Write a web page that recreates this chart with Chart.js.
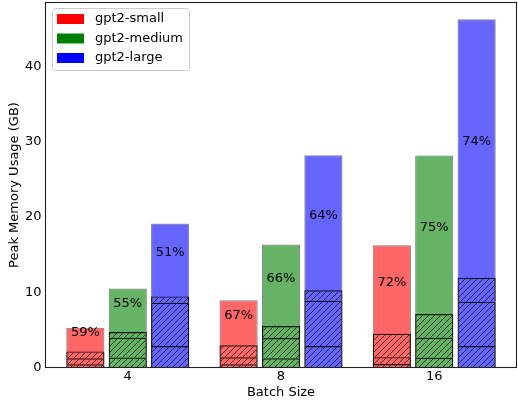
<!DOCTYPE html>
<html lang="en">
<head>
<meta charset="UTF-8">
<title>Peak Memory Usage</title>
<script src="https://cdn.jsdelivr.net/npm/chart.js"></script>
<style>
  body { margin: 0; background: #fff; }
</style>
</head>
<body>
<canvas id="memChart" width="518" height="406"></canvas>
<script>
const batchSizes = ['4', '8', '16'];
const models = ['gpt2-small', 'gpt2-medium', 'gpt2-large'];

// peak memory (GB), full bar
const smallPeak = [5.34, 8.97, 16.25];
const mediumPeak = [10.55, 16.38, 28.17];
const largePeak = [19.16, 28.2, 46.2];

// hatched part: lower boundary lines and top of the hatch
const smallLow = [0.5, 0.5, 0.53];
const mediumLow = [1.38, 1.3, 1.36];
const largeLow = [2.91, 2.9, 2.91];

const smallMid = [1.3, 1.42, 1.44];
const mediumMid = [4.01, 3.97, 4.01];
const largeMid = [8.65, 8.9, 8.78];

const smallHatch = [2.2, 3.0, 4.54];
const mediumHatch = [4.77, 5.56, 7.15];
const largeHatch = [9.49, 10.3, 11.96];

// percent labels
const smallPct = [59, 67, 72];
const mediumPct = [55, 66, 75];
const largePct = [51, 64, 74];

const peaks = [smallPeak, mediumPeak, largePeak];
const lows = [smallLow, mediumLow, largeLow];
const mids = [smallMid, mediumMid, largeMid];
const hatchTops = [smallHatch, mediumHatch, largeHatch];
const pcts = [smallPct, mediumPct, largePct];

const fills = ['rgba(255,0,0,0.6)', 'rgba(0,128,0,0.6)', 'rgba(0,0,255,0.6)'];
const solids = ['#ff0000', '#008000', '#0000ff'];

Chart.defaults.font.family = "'DejaVu Sans'";
Chart.defaults.font.size = 13;
Chart.defaults.color = '#000';

function makeHatch() {
  const c = document.createElement('canvas');
  c.width = 6; c.height = 6;
  const g = c.getContext('2d');
  g.strokeStyle = 'rgba(0,0,0,0.75)';
  g.lineWidth = 0.9;
  g.beginPath();
  g.moveTo(0, 6); g.lineTo(6, 0);
  g.moveTo(-1, 1); g.lineTo(1, -1);
  g.moveTo(5, 7); g.lineTo(7, 5);
  g.stroke();
  return g.createPattern(c, 'repeat');
}

const hatch = makeHatch();
const datasets = [];

models.forEach((m, i) => {
  const segs = [
    lows[i].map(v => [0, v]),
    lows[i].map((v, j) => [v, mids[i][j]]),
    mids[i].map((v, j) => [v, hatchTops[i][j]])
  ];
  segs.forEach(d => datasets.push({
    label: m, stack: m, order: 1, data: d,
    backgroundColor: hatch,
    borderColor: 'rgba(0,0,0,0.85)',
    borderWidth: 1.2,
    borderSkipped: 'start'
  }));
});

const fullStart = datasets.length;
models.forEach((m, i) => datasets.push({
  label: m, stack: m, order: 2, data: peaks[i],
  backgroundColor: fills[i],
  borderColor: '#808080',
  borderWidth: 1,
  borderSkipped: false
}));

const pctLabels = {
  id: 'pctLabels',
  afterDatasetsDraw(chart) {
    const { ctx, scales: { y } } = chart;
    ctx.save();
    ctx.font = "13px 'DejaVu Sans'";
    ctx.fillStyle = '#000';
    ctx.textAlign = 'center';
    ctx.textBaseline = 'middle';
    models.forEach((m, i) => {
      chart.getDatasetMeta(fullStart + i).data.forEach((bar, j) => {
        const mid = (hatchTops[i][j] + peaks[i][j]) / 2;
        ctx.fillText(pcts[i][j] + '%', bar.x, y.getPixelForValue(mid) - 7);
      });
    });
    ctx.restore();
  }
};

const frameAndLegend = {
  id: 'frameAndLegend',
  afterDraw(chart) {
    const { ctx, chartArea: a } = chart;
    ctx.save();
    // axes box
    ctx.strokeStyle = '#222';
    ctx.lineWidth = 1.1;
    ctx.strokeRect(Math.round(a.left) + 0.5, Math.round(a.top) + 0.5,
      Math.round(a.right - a.left) - 1, Math.round(a.bottom - a.top) - 1);

    // legend
    const lx = 52.5, ly = 8.5, lw = 137, lh = 62;
    ctx.beginPath();
    ctx.roundRect(lx, ly, lw, lh, 3);
    ctx.fillStyle = 'rgba(255,255,255,0.8)';
    ctx.fill();
    ctx.strokeStyle = '#cccccc';
    ctx.lineWidth = 1;
    ctx.stroke();
    ctx.font = "13px 'DejaVu Sans'";
    ctx.textAlign = 'left';
    ctx.textBaseline = 'middle';
    models.forEach((m, i) => {
      const cy = 19 + i * 19.5;
      ctx.fillStyle = solids[i];
      ctx.fillRect(57, cy - 5, 27, 10);
      ctx.fillStyle = '#000';
      ctx.fillText(m, 95, cy);
    });
    ctx.restore();
  }
};

new Chart(document.getElementById('memChart'), {
  type: 'bar',
  data: { labels: batchSizes.map((_, i) => i), datasets },
  options: {
    responsive: false,
    animation: false,
    categoryPercentage: 0.83,
    barPercentage: 0.9,
    layout: { padding: { top: 2, right: 1, left: 0, bottom: 0 } },
    plugins: { legend: { display: false }, tooltip: { enabled: false } },
    scales: {
      x: {
        type: 'linear',
        offset: false,
        min: -0.54,
        max: 2.54,
        grid: { display: false, drawTicks: false },
        border: { display: false },
        afterBuildTicks: s => { s.ticks = batchSizes.map((_, i) => ({ value: i })); },
        ticks: { padding: 1, callback: v => batchSizes[v] },
        title: { display: true, text: 'Batch Size', padding: { top: 0, bottom: 6 } },
        afterFit: s => { s.height = 38; s.paddingLeft = 0; s.paddingRight = 0; }
      },
      y: {
        min: 0,
        max: 48.5,
        stacked: false,
        grid: { display: false, drawTicks: false },
        border: { display: false },
        ticks: { stepSize: 10, includeBounds: false, padding: 3.5 },
        title: { display: true, text: 'Peak Memory Usage (GB)', padding: { top: 6.5, bottom: 0 } },
        afterFit: s => { s.width = 45; s.paddingTop = 0; s.paddingBottom = 0; }
      }
    }
  },
  plugins: [pctLabels, frameAndLegend]
});
</script>
</body>
</html>
